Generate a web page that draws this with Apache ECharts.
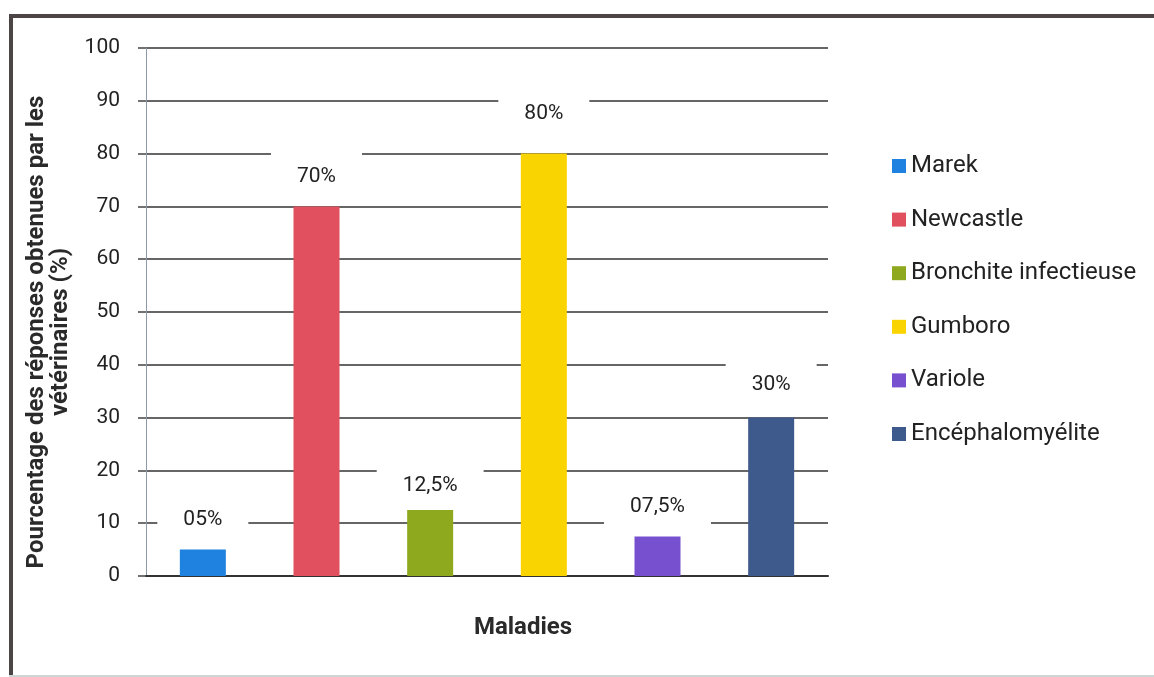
<!DOCTYPE html>
<html><head><meta charset="utf-8">
<script src="https://cdn.jsdelivr.net/npm/echarts@6/dist/echarts.min.js"></script>
<style>html,body{margin:0;padding:0;background:#fff}#c{width:1154px;height:677px}</style>
</head><body><div id="c"></div>
<script>
const categories = ['Marek', 'Newcastle', 'Bronchite infectieuse', 'Gumboro', 'Variole', 'Encéphalomyélite'];
const values = [5, 70, 12.5, 80, 7.5, 30];
const valueLabels = ['05%', '70%', '12,5%', '80%', '07,5%', '30%'];
const yTicks = [0, 10, 20, 30, 40, 50, 60, 70, 80, 90, 100];
const colors = ['#1f82e0', '#e0505f', '#8fa91f', '#fad400', '#7650cf', '#3e5a8c'];
const labelDistances = [5, 5, 0, 15, 5, 8];

const FONT = 'Roboto';
const chart = echarts.init(document.getElementById('c'), null, {renderer: 'canvas'});

const series = categories.map((name, i) => ({
  name: name,
  type: 'bar',
  barWidth: 46,
  barGap: '-100%',
  itemStyle: {color: colors[i]},
  data: categories.map((c, j) => (j === i ? values[i] : null)),
  label: {
    show: true,
    position: 'top',
    distance: labelDistances[i],
    formatter: () => valueLabels[i],
    fontFamily: FONT,
    fontSize: 21,
    color: '#222',
    backgroundColor: '#fff',
    padding: [14, 26]
  }
}));

chart.setOption({
  animation: false,
  backgroundColor: '#fff',
  textStyle: {fontFamily: FONT},
  grid: {left: 146, right: 326, top: 48, bottom: 101, containLabel: false},
  title: {
    text: 'Maladies', left: 518, top: 611, textAlign: 'center',
    textStyle: {fontFamily: FONT, fontSize: 24, fontWeight: 'bold', color: '#2a2a2a'}
  },
  legend: {
    orient: 'vertical', left: 892, top: 154, padding: 0,
    icon: 'rect', itemWidth: 14, itemHeight: 14, itemGap: 29.6,
    textStyle: {fontFamily: FONT, fontSize: 24, lineHeight: 24, color: '#222'},
    data: categories
  },
  xAxis: {
    type: 'category', data: categories,
    axisLine: {lineStyle: {color: '#333', width: 2}},
    axisTick: {show: false}, axisLabel: {show: false}
  },
  yAxis: {
    type: 'value', min: yTicks[0], max: yTicks[yTicks.length - 1], interval: yTicks[1] - yTicks[0],
    name: 'Pourcentage des réponses obtenues par les\nvétérinaires (%)',
    nameLocation: 'middle', nameRotate: 90, nameGap: 73,
    nameTextStyle: {fontFamily: FONT, fontSize: 24, fontWeight: 'bold', color: '#2a2a2a', lineHeight: 24, padding: [0, 40, 0, 0]},
    axisLine: {show: true, lineStyle: {color: '#8f9aa6', width: 1}},
    axisTick: {show: true, length: 8, lineStyle: {color: '#444', width: 1.5}},
    axisLabel: {margin: 26, fontFamily: FONT, fontSize: 21, color: '#222'},
    splitLine: {lineStyle: {color: '#333', width: 1.5}}
  },
  graphic: [
    {type: 'rect', shape: {x: 9, y: 14, width: 4, height: 663}, style: {fill: '#4b4545'}, silent: true},
    {type: 'rect', shape: {x: 9, y: 14, width: 1145, height: 4}, style: {fill: '#4b4545'}, silent: true},
    {type: 'rect', shape: {x: 9, y: 675, width: 1145, height: 2}, style: {fill: '#cfd6d6'}, silent: true}
  ],
  series: series
});
</script></body></html>
